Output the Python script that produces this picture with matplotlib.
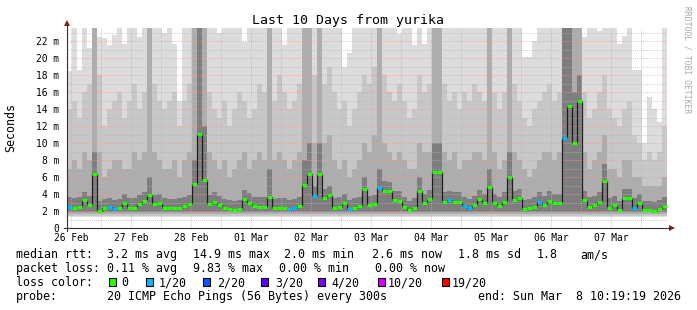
import numpy as np
import matplotlib
matplotlib.use("Agg")
import matplotlib.pyplot as plt
from matplotlib.patches import Rectangle, Polygon
from matplotlib.lines import Line2D

plt.rcParams['font.family'] = ['DejaVu Sans Mono']

# ---------------- data (2-hour bins, 10 days) ----------------
median_ms = [
    2.5, 2.4, 2.5, 3.3, 2.7, 6.4, 2.0, 2.3, 2.5, 2.2,
    2.3, 3.0, 2.4, 2.4, 2.8, 3.2, 3.9, 2.8, 3.0, 2.4,
    2.3, 2.3, 2.4, 2.6, 2.8, 5.2, 11.1, 5.6, 2.8, 3.1,
    2.7, 2.3, 2.2, 2.1, 2.2, 3.4, 3.0, 2.6, 2.5, 2.5,
    3.7, 2.3, 2.4, 2.4, 2.2, 2.3, 2.6, 5.1, 6.4, 3.8,
    6.4, 3.5, 3.9, 2.4, 2.5, 2.9, 2.2, 2.4, 2.6, 4.6,
    2.7, 2.8, 4.7, 4.3, 4.3, 3.3, 3.2, 2.5, 2.1, 2.4,
    4.3, 2.9, 3.4, 6.6, 6.6, 3.1, 3.3, 3.1, 3.1, 2.6,
    2.3, 2.7, 3.4, 2.9, 4.8, 2.9, 2.6, 3.1, 6.0, 3.3,
    3.5, 2.2, 2.3, 2.5, 3.1, 2.7, 3.2, 2.9, 2.9, 10.6,
    14.4, 10.0, 14.9, 3.3, 2.5, 2.7, 3.1, 5.5, 2.4, 2.7,
    2.1, 3.5, 3.5, 2.4, 2.9, 2.1, 2.1, 2.0, 2.2, 2.6,
]
loss_idx = [
    1, 0, 0, 0, 0, 0, 0, 0, 1, 1,
    0, 0, 0, 0, 0, 0, 0, 0, 0, 0,
    0, 0, 0, 0, 0, 0, 0, 0, 0, 0,
    0, 0, 0, 0, 0, 0, 0, 0, 0, 0,
    0, 0, 0, 0, 1, 1, 0, 0, 0, 1,
    0, 0, 0, 0, 0, 0, 1, 0, 0, 0,
    0, 0, 1, 0, 0, 0, 0, 0, 0, 0,
    0, 0, 0, 0, 0, 0, 1, 0, 0, 1,
    1, 0, 0, 0, 0, 0, 0, 0, 0, 0,
    0, 0, 0, 0, 1, 0, 0, 0, 0, 1,
    0, 0, 0, 0, 0, 0, 0, 0, 0, 0,
    0, 0, 0, 1, 0, 0, 0, 0, 0, 0,
]
smoke_max = [
    18.5, 24, 18.6, 24, 21.2, 24, 22.5, 22.3, 21.5, 22.7,
    24, 21.7, 24, 24, 22.5, 24, 24, 24, 24, 22.9,
    24, 21.7, 15.0, 24, 24, 24, 24, 24, 24, 24,
    23.0, 24, 24, 24, 24, 21.9, 24, 24, 24, 24,
    24, 24, 24, 21.5, 24, 24, 24, 24, 24, 24,
    24, 24, 24, 24, 24, 19.0, 20.6, 24, 24, 24,
    24, 24, 24, 24, 24, 24, 22.8, 24, 24, 21.5,
    24, 21.7, 24, 24, 24, 24, 24, 24, 24, 24,
    24, 24, 24, 24, 24, 24, 24, 24, 24, 24,
    24, 20.1, 20.1, 22.0, 24, 24, 24, 24, 24, 24,
    24, 24, 24, 22.5, 24, 24, 23.2, 24, 24, 24,
    21.7, 22.6, 24, 18.6, 18.6, 10.0, 15.4, 14.0, 12.5, 24,
]
smoke_hi = [
    14, 15, 13, 16, 17, 24, 18, 12, 14, 15,
    16, 13, 15, 17, 14, 16, 24, 17, 15, 14,
    15, 16, 12, 15, 17, 24, 24, 24, 16, 14,
    13, 15, 12, 14, 16, 15, 13, 14, 17, 16,
    24, 15, 18, 16, 14, 15, 17, 24, 24, 18,
    24, 17, 19, 16, 14, 15, 12, 14, 16, 18,
    17, 19, 24, 18, 16, 15, 17, 15, 13, 14,
    18, 16, 17, 24, 24, 17, 15, 16, 14, 16,
    15, 17, 16, 15, 24, 16, 14, 16, 24, 17,
    15, 13, 12, 14, 15, 16, 17, 15, 16, 24,
    24, 24, 24, 16, 13, 14, 16, 18, 14, 13,
    12, 14, 15, 11, 10, 8, 9, 8, 9, 12,
]
smoke_mid = [
    7, 8, 7, 9, 8, 24, 9, 6, 7, 8,
    8, 7, 7, 9, 8, 9, 24, 9, 8, 7,
    7, 8, 6, 8, 9, 24, 24, 24, 9, 8,
    7, 8, 6, 7, 8, 9, 7, 8, 9, 8,
    24, 8, 9, 8, 7, 8, 9, 24, 24, 10,
    24, 10, 11, 8, 7, 8, 6, 7, 8, 10,
    9, 11, 24, 10, 9, 8, 9, 8, 7, 7,
    10, 9, 9, 24, 24, 9, 8, 9, 7, 8,
    8, 9, 9, 8, 24, 9, 7, 8, 24, 9,
    8, 7, 6, 7, 8, 9, 9, 8, 9, 24,
    24, 24, 24, 9, 7, 8, 9, 11, 7, 7,
    6, 8, 8, 6, 6, 5, 5, 5, 5, 6,
]
smoke_lo = [
    3.6, 3.5, 3.6, 4.2, 3.8, 9.0, 3.2, 3.4, 3.5, 3.3,
    3.4, 4.0, 3.5, 3.5, 3.9, 4.2, 6.0, 3.9, 4.0, 3.5,
    3.4, 3.4, 3.5, 3.7, 3.9, 8.0, 24, 12, 3.9, 4.2,
    3.8, 3.4, 3.3, 3.2, 3.3, 4.5, 4.1, 3.7, 3.6, 3.6,
    7.0, 3.4, 3.5, 3.5, 3.3, 3.4, 3.7, 8.0, 10.0, 5.0,
    10.0, 4.6, 5.0, 3.5, 3.6, 4.0, 3.3, 3.5, 3.7, 6.0,
    3.8, 3.9, 7.0, 5.5, 5.4, 4.4, 4.3, 3.6, 3.2, 3.5,
    6.0, 4.0, 4.5, 10.0, 10.0, 4.2, 4.4, 4.2, 4.2, 3.7,
    3.4, 3.8, 4.5, 4.0, 7.0, 4.0, 3.7, 4.2, 9.0, 4.4,
    4.6, 3.3, 3.4, 3.6, 4.2, 3.8, 4.3, 4.0, 4.0, 24,
    24, 16, 18, 4.4, 3.6, 3.8, 4.2, 7.5, 3.5, 3.8,
    3.2, 4.6, 4.6, 3.5, 4.0, 3.2, 3.2, 3.1, 3.3, 3.7,
]
smoke_floor = [1.25, 1.45, 1.65, 1.85]
bin_hours = 2
total_hours = 240
first_midnight_h = 13.678   # Feb 26 10:19:19 -> Feb 27 00:00
day_labels = ["26 Feb", "27 Feb", "28 Feb", "01 Mar", "02 Mar",
              "03 Mar", "04 Mar", "05 Mar", "06 Mar", "07 Mar"]
y_ticks = [0, 2, 4, 6, 8, 10, 12, 14, 16, 18, 20, 22]
y_tick_labels = ["0"] + [f"{v} m" for v in y_ticks[1:]]
loss_names = ["0", "1/20", "2/20", "3/20", "4/20", "10/20", "19/20"]
loss_colors = ["#26ff00", "#00b8ff", "#0059ff", "#5e00ff", "#7e00ff", "#dd00ff", "#ff0000"]

# ---------------- figure ----------------
W, H = 697, 310
fig = plt.figure(figsize=(W / 100, H / 100), dpi=100)
fig.patch.set_facecolor("white")


def fx(px):
    return px / W


def fy(py):
    return 1 - py / H


X0, X1, Y0, YTOP = 67, 667, 228, 28.25
ax = fig.add_axes([fx(X0), fy(Y0), (X1 - X0) / W, (Y0 - YTOP) / H])
ax.set_xlim(0, total_hours)
ax.set_ylim(0, 23.5)
for s in ax.spines.values():
    s.set_visible(False)

edges = np.arange(len(median_ms) + 1) * bin_hours
band_colors = ["#dcdcdc", "#c7c7c7", "#adadad", "#7e7e7e"]
for vals, fl, col in zip([smoke_max, smoke_hi, smoke_mid, smoke_lo], smoke_floor, band_colors):
    ax.stairs(vals, edges, baseline=fl, fill=True, color=col, lw=0, zorder=1)

# grid
red_grid = "#f09a9a"
gray_grid = "#b4b4b4"
dots = (0, (0.7, 1.4))
for v in np.arange(1, 23.5, 1):
    ax.axhline(v, color=red_grid if v % 2 == 0 else gray_grid, lw=0.7, ls=dots, zorder=2)
midnights = first_midnight_h + 24 * np.arange(10)
noons = midnights - 12
for m in midnights:
    ax.axvline(m, color=red_grid, lw=0.7, ls=dots, zorder=2)
for n in noons:
    ax.axvline(n, color=gray_grid, lw=0.7, ls=dots, zorder=2)

# median line
ax.stairs(median_ms, edges, baseline=None, color="#1e1e1e", lw=0.9, zorder=3)
ax.hlines(median_ms, edges[:-1], edges[1:], colors=[loss_colors[i] for i in loss_idx],
          lw=2.2, zorder=4)

# ticks
ax.set_yticks(y_ticks, y_tick_labels)
ax.tick_params(axis="y", length=0, pad=5.6, labelsize=6.9)
ax.set_xticks(noons, day_labels)
ax.tick_params(axis="x", length=0, pad=3.6, labelsize=6.9)

# axes lines with arrows
axis_col = "#303030"
arrow_col = "#8b1a1a"
fig.add_artist(Line2D([fx(X0), fx(X0)], [fy(231), fy(25)], color=axis_col, lw=0.8))
fig.add_artist(Line2D([fx(64), fx(670)], [fy(Y0), fy(Y0)], color=axis_col, lw=0.8))
fig.add_artist(Polygon([[fx(64), fy(26)], [fx(70), fy(26)], [fx(67), fy(20)]],
                       closed=True, color=arrow_col, lw=0))
fig.add_artist(Polygon([[fx(669), fy(225)], [fx(669), fy(231)], [fx(675), fy(Y0)]],
                       closed=True, color=arrow_col, lw=0))

# titles
fig.text(fx(347.5), fy(24), "Last 10 Days from yurika", ha="center", va="baseline",
         fontsize=9.5, color="black")
fig.text(fx(11), fy(127), "Seconds", rotation=90, ha="center", va="center",
         fontsize=8.4, color="black")
fig.text(fx(686.5), fy(60), "RRDTOOL / TOBI OETIKER", rotation=-90, ha="center", va="center",
         fontsize=5.8, color="#a8a8a8")

# legend
LF = 8.4
rows = [
    (258, [(16, "median rtt:"), (107, "3.2 ms avg"), (193, "14.9 ms max"), (284, "2.0 ms min"),
           (372, "2.6 ms now"), (458, "1.8 ms sd"), (537, "1.8"), (580, "am/s")]),
    (272, [(16, "packet loss:"), (107, "0.11 % avg"), (193, "9.83 % max"), (279, "0.00 % min"),
           (375, "0.00 % now")]),
    (300, [(16, "probe:"), (107, "20 ICMP Echo Pings (56 Bytes) every 300s"),
           (478, "end: Sun Mar  8 10:19:19 2026")]),
]
for yb, items in rows:
    for xp, t in items:
        fig.text(fx(xp), fy(yb), t, ha="left", va="baseline", fontsize=LF, color="black")

fig.text(fx(16), fy(286), "loss color:", ha="left", va="baseline", fontsize=LF, color="black")
box_x = [109, 146, 203, 261, 318, 378, 442]
text_x = [121, 159, 217, 275, 331, 388, 452]
for bx, tx, name, col in zip(box_x, text_x, loss_names, loss_colors):
    fig.add_artist(Rectangle((fx(bx), fy(286)), 7 / W, 8 / H, facecolor=col,
                             edgecolor="black", lw=0.8))
    fig.text(fx(tx), fy(286), name, ha="left", va="baseline", fontsize=LF, color="black")

fig.savefig("out.png", dpi=100, facecolor="white")
